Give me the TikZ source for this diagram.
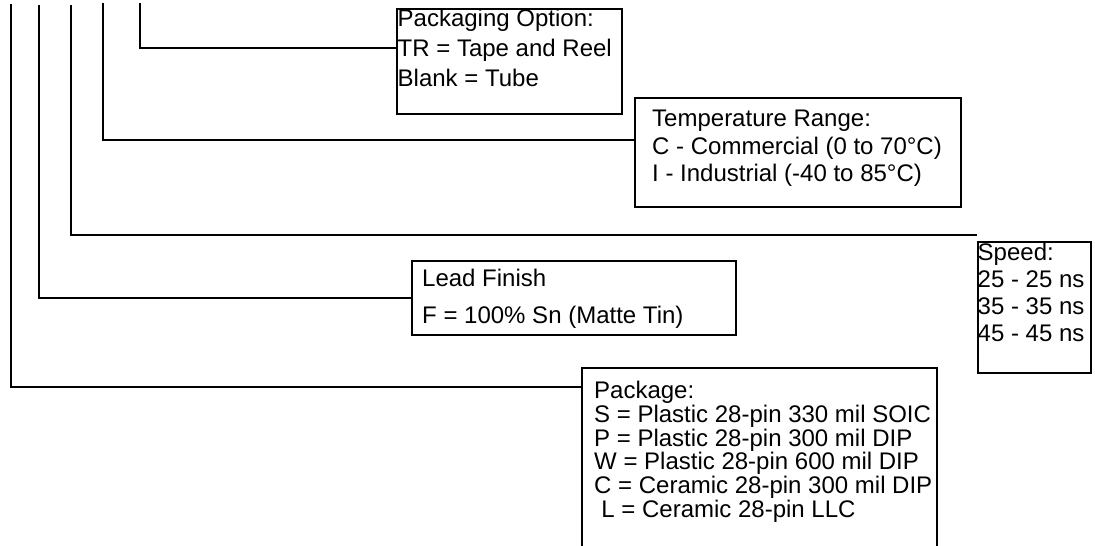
\documentclass[tikz,border=0pt]{standalone}
\usepackage{fontspec}
\setmainfont{Liberation Sans}
\begin{document}
\begin{tikzpicture}[x=1pt,y=-1pt,
  box/.style={draw=black, line width=2pt, inner sep=0pt, anchor=north west},
  txt/.style={inner sep=0pt, anchor=north west, align=left},
  conn/.style={draw=black, line width=2pt},
]
\useasboundingbox (0,0) rectangle (1095,546);
\lineskiplimit=-100pt
% boxes
\node[box, minimum width=225pt, minimum height=105pt] (pkgopt) at (396,8) {};
\node[box, minimum width=326pt, minimum height=109pt] (temp) at (634,97) {};
\node[box, minimum width=113pt, minimum height=131pt] (speed) at (977,241) {};
\node[box, minimum width=324pt, minimum height=74pt] (lead) at (411,260) {};
\node[box, minimum width=355pt, minimum height=200pt] (pack) at (581,367) {};
% texts
\node[txt, font=\fontsize{24}{30}\selectfont] (pkgopt-t) at (397.5,6)
  {\rule{0pt}{20pt}Packaging Option:\\TR = Tape and Reel\\Blank = Tube};
\node[txt, font=\fontsize{24}{27.5}\selectfont] (temp-t) at (652,106.7)
  {\rule{0pt}{20pt}Temperature Range:\\C - Commercial (0 to 70°C)\\I - Industrial (-40 to 85°C)};
\node[txt, font=\fontsize{24}{27.2}\selectfont] (speed-t) at (977.5,240)
  {\rule{0pt}{20pt}Speed:\\25 - 25 ns\\35 - 35 ns\\45 - 45 ns};
\node[txt, font=\fontsize{24}{36.5}\selectfont] (lead-t) at (422,266.7)
  {\rule{0pt}{20pt}Lead Finish\\F = 100\% Sn (Matte Tin)};
\node[txt, font=\fontsize{24}{23.7}\selectfont] (pack-t) at (594,378.5)
  {\rule{0pt}{20pt}Package:\\S = Plastic 28-pin 330 mil SOIC\\P = Plastic 28-pin 300 mil DIP\\W = Plastic 28-pin 600 mil DIP\\C = Ceramic 28-pin 300 mil DIP\\\hspace*{0.3em}L = Ceramic 28-pin LLC};
% connector start points
\coordinate (s1) at (140,3);
\coordinate (s2) at (103,3);
\coordinate (s3) at (71,5);
\coordinate (s4) at (39,5);
\coordinate (s5) at (11,4);
% junctions on box edges
\coordinate (j1) at (pkgopt.west |- 0,48);
\coordinate (j2) at (temp.west |- 0,140);
\coordinate (j3) at (speed.west |- 0,235);
\coordinate (j4) at (lead.west |- 0,298);
\coordinate (j5) at (pack.west |- 0,387);
\draw[conn] (s1) |- (j1);
\draw[conn] (s2) |- (j2);
\draw[conn] (s3) |- (j3);
\draw[conn] (s4) |- (j4);
\draw[conn] (s5) |- (j5);
\end{tikzpicture}
\end{document}
